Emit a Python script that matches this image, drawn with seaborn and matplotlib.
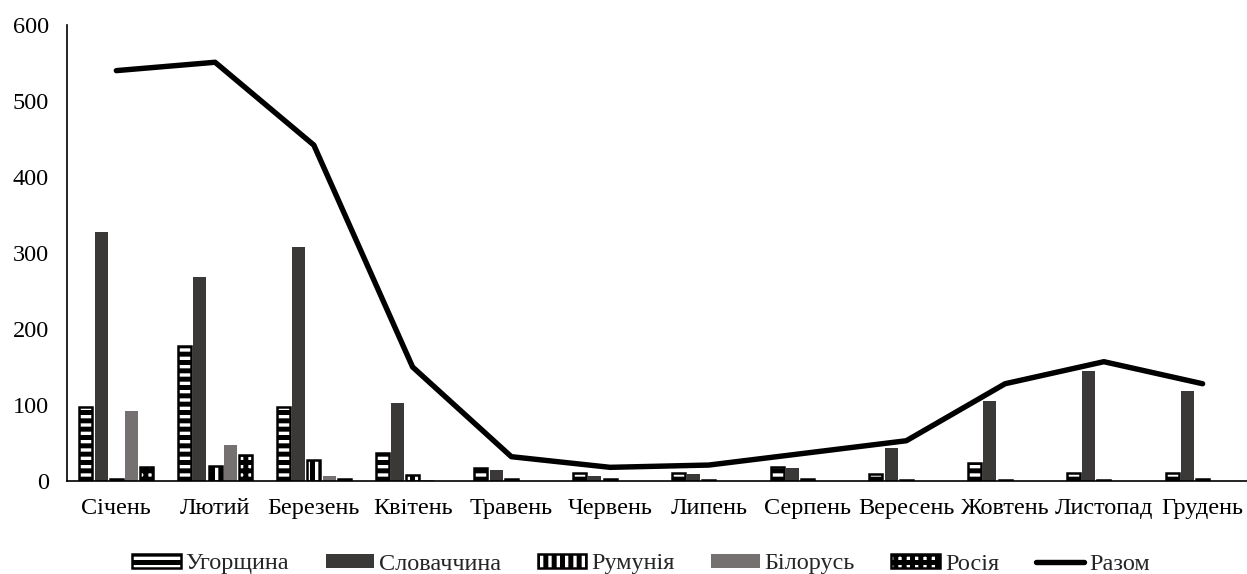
import numpy as np
import pandas as pd
import seaborn as sns
from matplotlib import pyplot as plt
from matplotlib.patches import Patch
from matplotlib.lines import Line2D

months = ["Січень", "Лютий", "Березень", "Квітень", "Травень", "Червень",
          "Липень", "Серпень", "Вересень", "Жовтень", "Листопад", "Грудень"]
countries = ["Угорщина", "Словаччина", "Румунія", "Білорусь", "Росія"]

hungary = [97, 177, 97, 37, 17, 10, 11, 19, 9, 24, 11, 10]
slovakia = [328, 269, 308, 103, 14, 7, 9, 17, 43, 105, 145, 118]
romania = [2, 20, 27, 8, 3, 2, 1, 3, 1, 1, 1, 2]
belarus = [92, 47, 7, 1, 0, 0, 0, 0, 0, 0, 0, 0]
russia = [18, 34, 2, 0, 0, 0, 0, 0, 0, 0, 0, 0]
total = [540, 551, 442, 150, 32, 18, 21, 37, 53, 128, 157, 128]

sns.set_style("white")
plt.rcParams["font.family"] = ["Liberation Serif", "DejaVu Serif"]
plt.rcParams["hatch.linewidth"] = 3.6
plt.rcParams["hatch.color"] = "black"

df = pd.DataFrame({
    "month": months * 5,
    "country": np.repeat(countries, len(months)),
    "value": hungary + slovakia + romania + belarus + russia,
})

styles = {
    "Угорщина": dict(facecolor="white", hatch="--", edgecolor="black", linewidth=1.8),
    "Словаччина": dict(facecolor="#3b3838", hatch=None, edgecolor="none", linewidth=0),
    "Румунія": dict(facecolor="white", hatch="||", edgecolor="black", linewidth=1.8),
    "Білорусь": dict(facecolor="#767171", hatch=None, edgecolor="none", linewidth=0),
    "Росія": dict(facecolor="white", hatch="++", edgecolor="black", linewidth=1.8),
}

fig = plt.figure(figsize=(12.47, 5.74), dpi=100)
ax = fig.add_axes([0.0537, 0.162, 0.9503, 0.7944])

sns.barplot(data=df, x="month", y="value", hue="country", order=months,
            hue_order=countries, width=0.77, gap=0.15, saturation=1,
            legend=False, ax=ax)

for cont, name in zip(ax.containers, countries):
    st = styles[name]
    for bar in cont:
        bar.set_facecolor(st["facecolor"])
        bar.set_edgecolor(st["edgecolor"])
        bar.set_linewidth(st["linewidth"])
        bar.set_hatch(st["hatch"])
        if bar.get_height() == 0:
            bar.set_visible(False)

sns.lineplot(x=np.arange(len(months)), y=total, ax=ax, color="black",
             linewidth=3.9, solid_capstyle="round", solid_joinstyle="round")

ax.set_xlim(-0.5, 11.5)
ax.set_ylim(0, 600)
ax.set_yticks(range(0, 601, 100))
ax.set_xlabel("")
ax.set_ylabel("")
ax.tick_params(axis="both", length=0, labelsize=17.5, colors="black")
ax.tick_params(axis="y", pad=13)
ax.tick_params(axis="x", pad=12)
for s in ["top", "right"]:
    ax.spines[s].set_visible(False)
for s in ["left", "bottom"]:
    ax.spines[s].set_color("black")
    ax.spines[s].set_linewidth(1.2)

handles = [Patch(**styles[c]) for c in countries]
handles.append(Line2D([], [], color="black", linewidth=3.9, solid_capstyle="round"))
fig.legend(handles, countries + ["Разом"], loc="center",
           bbox_to_anchor=(0.514, 1 - 564 / 574), ncol=6, frameon=False,
           handlelength=2.0, handleheight=0.55, handletextpad=0.2,
           columnspacing=1.5, fontsize=17.5)

fig.savefig("out.png", dpi=100)
